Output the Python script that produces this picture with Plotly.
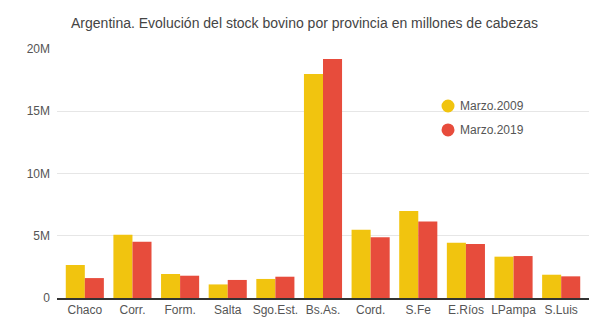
import plotly.graph_objects as go

provincias = ["Chaco", "Corr.", "Form.", "Salta", "Sgo.Est.", "Bs.As.",
              "Cord.", "S.Fe", "E.Ríos", "LPampa", "S.Luis"]
stock_2009 = [2.65e6, 5.08e6, 1.93e6, 1.09e6, 1.53e6, 18.0e6,
              5.49e6, 6.99e6, 4.44e6, 3.32e6, 1.87e6]
stock_2019 = [1.60e6, 4.52e6, 1.79e6, 1.45e6, 1.71e6, 19.2e6,
              4.87e6, 6.15e6, 4.34e6, 3.37e6, 1.74e6]
series_names = ["Marzo.2009", "Marzo.2019"]
y_ticks = [0, 5e6, 10e6, 15e6, 20e6]
y_labels = ["0", "5M", "10M", "15M", "20M"]

colors = ["#F1C40F", "#E74C3C"]
font = "Liberation Sans, Arial, sans-serif"

fig = go.Figure()
for name, vals, c in zip(series_names, [stock_2009, stock_2019], colors):
    fig.add_trace(go.Bar(x=provincias, y=vals, name=name, marker_color=c,
                         marker_line_width=0, showlegend=False))

# hand-built legend: circle markers with labels inside the plot area
legend_x = 0.735
legend_ys = [0.771, 0.675]
for name, c, ly in zip(series_names, colors, legend_ys):
    fig.add_shape(type="circle", xref="paper", yref="paper",
                  xsizemode="pixel", ysizemode="pixel",
                  xanchor=legend_x, yanchor=ly,
                  x0=-6.5, x1=6.5, y0=-6.5, y1=6.5,
                  fillcolor=c, line_width=0)
    fig.add_annotation(x=legend_x, y=ly, xref="paper", yref="paper",
                       text=name, showarrow=False, xanchor="left",
                       yanchor="middle", xshift=10,
                       font=dict(family=font, size=12, color="#555"))

n = len(provincias)
pad = 0.084
fig.update_layout(
    width=609, height=329,
    margin=dict(l=57, r=20, t=49, b=31),
    paper_bgcolor="white", plot_bgcolor="white",
    barmode="group", bargap=0.2, bargroupgap=0,
    showlegend=False,
    font=dict(family=font, size=12, color="#555"),
    title=dict(text="Argentina. Evolución del stock bovino por provincia en millones de cabezas",
               x=0.5, xanchor="center", y=0.93, yanchor="middle",
               font=dict(family=font, size=14, color="#444")),
    xaxis=dict(showline=True, linecolor="#333", linewidth=1.5, ticks="",
               range=[-0.5 - pad, n - 0.5 + pad],
               showgrid=False, tickfont=dict(size=12, color="#555")),
    yaxis=dict(range=[0, 20e6], tickvals=y_ticks, ticktext=y_labels,
               showgrid=True, gridcolor="#e6e6e6", gridwidth=1,
               ticklabelstandoff=6,
               zeroline=False, ticks="", tickfont=dict(size=12, color="#555")),
)

fig.write_html("out.html")
